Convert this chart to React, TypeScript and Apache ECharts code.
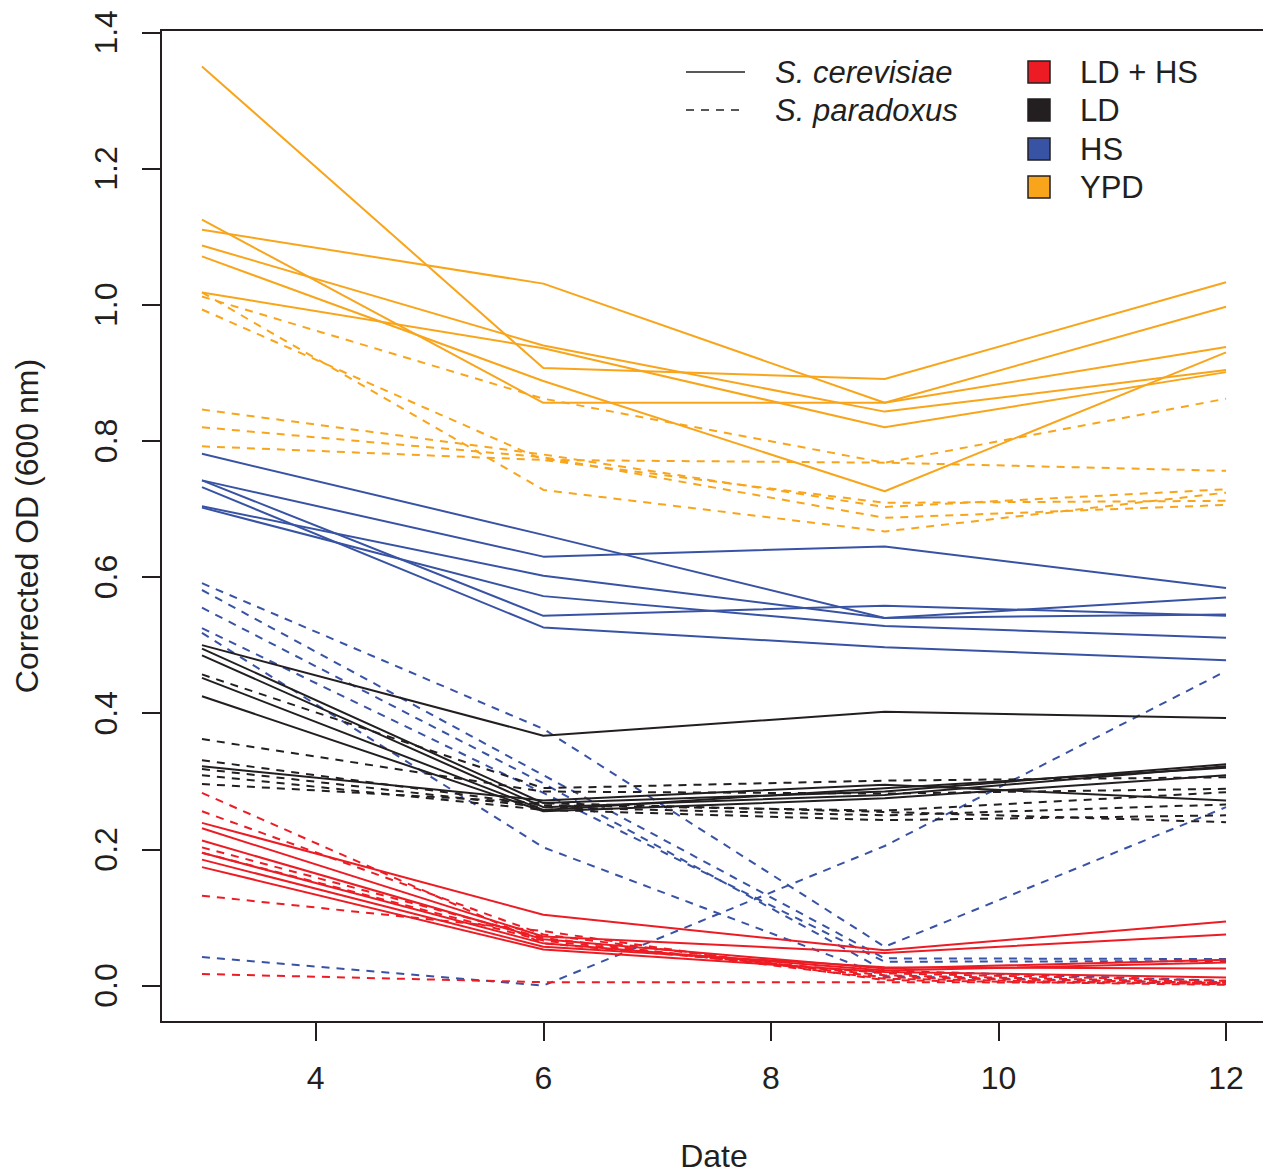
import React, { useEffect, useRef } from "react";
import * as echarts from "echarts";

// Sampling days (x values)
const days = [3, 6, 9, 12];

// Tick values
const xTicks = [4, 6, 8, 10, 12];
const yTicks = [0, 0.2, 0.4, 0.6, 0.8, 1.0, 1.2, 1.4];

// Corrected OD (600 nm) per culture, one row per replicate line, values at days 3, 6, 9, 12
const ypdCerevisiae = [
  [1.110, 1.031, 0.856, 0.997],
  [1.350, 0.907, 0.891, 1.033],
  [1.125, 0.856, 0.856, 0.938],
  [1.071, 0.888, 0.726, 0.930],
  [1.087, 0.940, 0.843, 0.904],
  [1.018, 0.936, 0.820, 0.901],
];
const ypdParadoxus = [
  [1.012, 0.862, 0.768, 0.862],
  [0.792, 0.772, 0.768, 0.756],
  [0.993, 0.772, 0.709, 0.712],
  [0.846, 0.780, 0.703, 0.729],
  [0.820, 0.776, 0.687, 0.706],
  [1.018, 0.728, 0.667, 0.724],
];
const hsCerevisiae = [
  [0.781, 0.662, 0.540, 0.545],
  [0.742, 0.630, 0.645, 0.584],
  [0.742, 0.543, 0.558, 0.543],
  [0.732, 0.526, 0.497, 0.478],
  [0.704, 0.602, 0.540, 0.570],
  [0.702, 0.572, 0.528, 0.511],
];
const hsParadoxus = [
  [0.591, 0.377, 0.057, 0.262],
  [0.581, 0.309, 0.040, 0.039],
  [0.555, 0.297, 0.022, 0.007],
  [0.525, 0.283, 0.035, 0.036],
  [0.518, 0.203, 0.014, 0.003],
  [0.042, 0.000, 0.205, 0.462],
];
const ldCerevisiae = [
  [0.500, 0.367, 0.402, 0.393],
  [0.495, 0.268, 0.285, 0.325],
  [0.485, 0.262, 0.280, 0.322],
  [0.452, 0.258, 0.290, 0.320],
  [0.425, 0.256, 0.275, 0.309],
  [0.322, 0.272, 0.295, 0.272],
];
const ldParadoxus = [
  [0.457, 0.290, 0.301, 0.306],
  [0.362, 0.285, 0.282, 0.289],
  [0.331, 0.265, 0.257, 0.284],
  [0.318, 0.262, 0.250, 0.266],
  [0.309, 0.258, 0.243, 0.250],
  [0.296, 0.268, 0.255, 0.240],
];
const ldhsCerevisiae = [
  [0.239, 0.104, 0.052, 0.094],
  [0.231, 0.072, 0.048, 0.075],
  [0.213, 0.068, 0.025, 0.038],
  [0.195, 0.062, 0.022, 0.034],
  [0.185, 0.057, 0.027, 0.025],
  [0.174, 0.053, 0.020, 0.012],
];
const ldhsParadoxus = [
  [0.283, 0.062, 0.018, 0.007],
  [0.256, 0.075, 0.012, 0.004],
  [0.203, 0.070, 0.010, 0.002],
  [0.195, 0.066, 0.015, 0.005],
  [0.132, 0.080, 0.008, 0.001],
  [0.017, 0.005, 0.005, 0.004],
];

const treatments = ["LD + HS", "LD", "HS", "YPD"];
const species = ["S. cerevisiae", "S. paradoxus"];

const INK = "#231F20";
const COLORS: Record<string, string> = {
  "LD + HS": "#ED1C24",
  LD: "#231F20",
  HS: "#3953A4",
  YPD: "#F8A51B",
};
const DASH = [8, 7];
const FONT = "'Liberation Sans', Arial, Helvetica, sans-serif";

const groups = [
  { treatment: "YPD", cer: ypdCerevisiae, par: ypdParadoxus },
  { treatment: "HS", cer: hsCerevisiae, par: hsParadoxus },
  { treatment: "LD", cer: ldCerevisiae, par: ldParadoxus },
  { treatment: "LD + HS", cer: ldhsCerevisiae, par: ldhsParadoxus },
];

function buildSeries() {
  const out: any[] = [];
  groups.forEach((g) => {
    const color = COLORS[g.treatment];
    [g.par, g.cer].forEach((rows, k) => {
      const dashed = rows === g.par;
      rows.forEach((vals, i) => {
        out.push({
          type: "line",
          name: `${g.treatment} ${dashed ? species[1] : species[0]} ${i + 1}`,
          data: days.map((d, j) => [d, vals[j]]),
          symbol: "none",
          silent: true,
          clip: false,
          lineStyle: { color, width: 2, type: dashed ? DASH : "solid" },
          z: 2 + k,
        });
      });
    });
  });
  return out;
}

function buildLegend() {
  const els: any[] = [];
  const rowY = [72, 110, 149, 187];
  // line-type key
  species.forEach((s, i) => {
    els.push({
      type: "line",
      shape: { x1: 686, y1: rowY[i], x2: 745, y2: rowY[i] },
      style: { stroke: INK, lineWidth: 1.5, lineDash: i === 1 ? [8, 7] : null },
    });
    els.push({
      type: "text",
      x: 775,
      y: rowY[i],
      style: {
        text: s,
        font: `italic 31px ${FONT}`,
        fill: INK,
        textVerticalAlign: "middle",
        textAlign: "left",
      },
    });
  });
  // colour key
  treatments.forEach((t, i) => {
    els.push({
      type: "rect",
      shape: { x: 1028, y: rowY[i] - 11, width: 22, height: 22 },
      style: { fill: COLORS[t], stroke: INK, lineWidth: 1.5 },
    });
    els.push({
      type: "text",
      x: 1080,
      y: rowY[i],
      style: {
        text: t,
        font: `31px ${FONT}`,
        fill: INK,
        textVerticalAlign: "middle",
        textAlign: "left",
      },
    });
  });
  return els;
}

export default function App() {
  const ref = useRef<HTMLDivElement>(null);

  useEffect(() => {
    if (!ref.current) return;
    const chart = echarts.init(ref.current, null, { renderer: "svg" });
    chart.setOption({
      animation: false,
      backgroundColor: "#ffffff",
      textStyle: { fontFamily: FONT },
      grid: {
        left: 161,
        top: 30,
        width: 1106,
        height: 992,
        show: true,
        borderColor: INK,
        borderWidth: 2,
        backgroundColor: "transparent",
        containLabel: false,
        outerBoundsMode: "none",
      },
      xAxis: {
        type: "value",
        min: 2.64,
        max: 12.36,
        name: "Date",
        nameLocation: "middle",
        nameGap: 118,
        nameTextStyle: { fontSize: 32, color: INK, fontFamily: FONT },
        axisLine: { show: false, onZero: false },
        splitLine: { show: false },
        axisTick: {
          show: true,
          length: 19,
          lineStyle: { color: INK, width: 2 },
          customValues: xTicks,
        },
        axisLabel: {
          fontSize: 32,
          color: INK,
          margin: 40,
          fontFamily: FONT,
          customValues: xTicks,
        },
      },
      yAxis: {
        type: "value",
        min: -0.0535,
        max: 1.4035,
        name: "Corrected OD (600 nm)",
        nameLocation: "middle",
        nameGap: 118,
        nameRotate: 90,
        nameTextStyle: { fontSize: 32, color: INK, fontFamily: FONT },
        axisLine: { show: false, onZero: false },
        splitLine: { show: false },
        axisTick: {
          show: true,
          length: 19,
          lineStyle: { color: INK, width: 2 },
          customValues: yTicks,
        },
        axisLabel: {
          fontSize: 32,
          color: INK,
          margin: 39,
          rotate: 90,
          fontFamily: FONT,
          customValues: yTicks,
          formatter: (v: number) => v.toFixed(1),
        },
      },
      series: buildSeries(),
      graphic: buildLegend(),
    });
    return () => chart.dispose();
  }, []);

  return (
    <div
      ref={ref}
      style={{ position: "absolute", left: 0, top: 0, width: 1263, height: 1174 }}
    />
  );
}
